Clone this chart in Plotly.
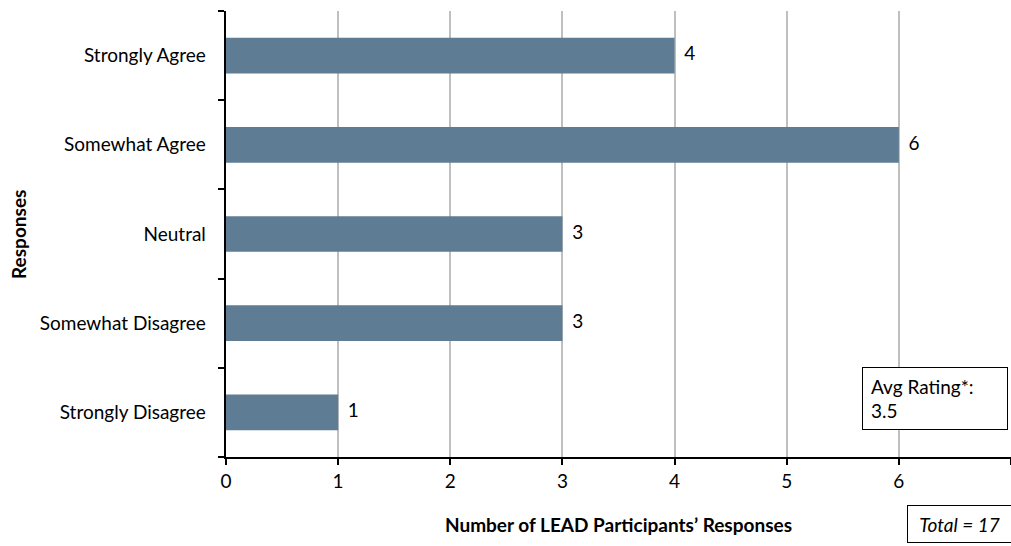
import plotly.graph_objects as go

# Survey responses, top to bottom as shown
responses = ['Strongly Agree', 'Somewhat Agree', 'Neutral', 'Somewhat Disagree', 'Strongly Disagree']
counts = [4, 6, 3, 3, 1]
x_ticks = [0, 1, 2, 3, 4, 5, 6, 7]
avg_rating = 3.5
total = 17

BAR_COLOR = '#5e7c93'
FONT = 'Lato'
FS = 19

fig = go.Figure()

fig.add_trace(go.Bar(
    y=responses,
    x=counts,
    orientation='h',
    marker=dict(color=BAR_COLOR, line=dict(width=0)),
    hoverinfo='x+y',
))

# Value labels to the right of each bar
fig.add_trace(go.Scatter(
    y=responses,
    x=counts,
    mode='text',
    text=[f'  {c}' for c in counts],
    textposition='middle right',
    textfont=dict(size=FS, color='black', family=FONT),
    hoverinfo='skip',
    cliponaxis=False,
))

# Axis titles as annotations so they sit where the original has them
fig.add_annotation(
    xref='paper', yref='paper', x=-0.265, y=0.5,
    text='<b>Responses</b>', textangle=-90, showarrow=False,
    xanchor='center', yanchor='middle',
    font=dict(size=FS, color='black', family=FONT),
)
fig.add_annotation(
    xref='paper', yref='paper', x=0.5, y=-0.152,
    text='<b>Number of LEAD Participants’ Responses</b>', showarrow=False,
    xanchor='center', yanchor='middle',
    font=dict(size=FS, color='black', family=FONT),
)

fig.add_annotation(
    xref='paper', yref='paper',
    x=0.81, y=0.06, xanchor='left', yanchor='bottom',
    text=f'Avg Rating*:<br>{avg_rating}',
    align='left', showarrow=False,
    width=128, height=45,
    bordercolor='black', borderwidth=1, borderpad=8,
    bgcolor='white',
    font=dict(size=FS, color='black', family=FONT),
)

fig.add_annotation(
    xref='paper', yref='paper',
    x=0.868, y=-0.15, xanchor='left', yanchor='middle',
    text=f'<i>Total = {total}</i>',
    align='center', showarrow=False,
    width=97, height=30,
    bordercolor='black', borderwidth=1, borderpad=3,
    bgcolor='white',
    font=dict(size=FS, color='black', family=FONT),
)

fig.update_layout(
    width=1011, height=546,
    margin=dict(l=226, r=0, t=11, b=89),
    plot_bgcolor='white', paper_bgcolor='white',
    showlegend=False,
    bargap=0.6,
    font=dict(family=FONT, size=FS, color='black'),
    xaxis=dict(
        range=[0, 7],
        tickvals=x_ticks,
        showgrid=True, gridcolor='#bfbfbf', gridwidth=1.5,
        zeroline=False,
        showline=True, linecolor='black', linewidth=1.5,
        ticks='outside', ticklen=6, tickcolor='black', tickwidth=1.5,
        tickfont=dict(size=FS),
    ),
    yaxis=dict(
        categoryorder='array', categoryarray=responses[::-1],
        showgrid=False,
        showline=True, linecolor='black', linewidth=1.5,
        ticks='outside', tickson='boundaries', ticklen=6,
        tickcolor='black', tickwidth=1.5,
        tickfont=dict(size=FS),
        ticksuffix='   ',
    ),
)

# drop the default page margin so the figure fills the window exactly
fig.write_html('out.html', config={'displayModeBar': False},
               post_script="document.body.style.margin='0';")
